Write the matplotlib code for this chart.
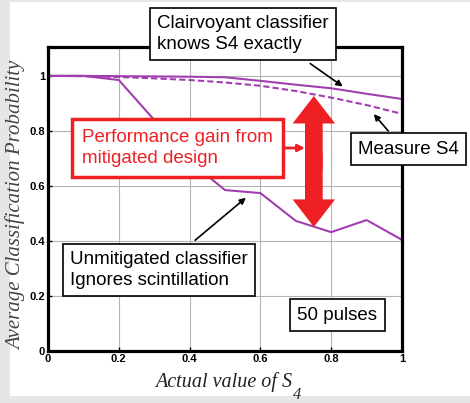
import numpy as np
import matplotlib.pyplot as plt
from matplotlib.patches import FancyArrow, Rectangle

plt.rcParams['font.family'] = 'Liberation Sans'

# data
s4 = [0, 0.1, 0.2, 0.3, 0.4, 0.5, 0.6, 0.7, 0.8, 0.9, 1.0]
clairvoyant = [1.0, 1.0, 0.999, 0.998, 0.997, 0.995, 0.982, 0.968, 0.955, 0.935, 0.916]
measured = [1.0, 0.999, 0.996, 0.991, 0.985, 0.976, 0.964, 0.945, 0.921, 0.894, 0.862]
unmitigated = [1.0, 1.0, 0.985, 0.84, 0.69, 0.585, 0.574, 0.473, 0.432, 0.476, 0.404]
xticks = [0, 0.2, 0.4, 0.6, 0.8, 1]
xlabels = ['0', '0.2', '0.4', '0.6', '0.8', '1']
yticks = [0, 0.2, 0.4, 0.6, 0.8, 1]
ylabels = ['0', '0.2', '0.4', '0.6', '0.8', '1']

W, H = 470, 403
fig = plt.figure(figsize=(W/100, H/100), dpi=100)
fig.patch.set_facecolor('#e6e6e6')
fig.patches.append(Rectangle((10/W, 1-396/H), 1, 394/H, transform=fig.transFigure,
                             facecolor='white', edgecolor='none', zorder=-5))

def fx(px):
    return px / W

def fy(py):
    return 1 - py / H

ax = fig.add_axes([fx(48), fy(351), fx(402)-fx(48), fy(47)-fy(351)])
ax.set_zorder(1)
purple = '#a23fb0'
ax.plot(s4, clairvoyant, color=purple, lw=1.5)
ax.plot(s4, measured, color=purple, lw=1.5, ls=(0, (3, 1.5)))
ax.plot(s4, unmitigated, color=purple, lw=1.5)

ax.set_xlim(0, 1)
ax.set_ylim(0, 1.105)
ax.set_xticks(xticks)
ax.set_xticklabels(xlabels, fontweight='bold', fontsize=8)
ax.set_yticks(yticks)
ax.set_yticklabels(ylabels, fontweight='bold', fontsize=8)
ax.tick_params(direction='in', length=3, width=1, pad=2)
ax.grid(True, color='#b4b4b4', lw=0.8)
for sp in ax.spines.values():
    sp.set_linewidth(2.3)
ax.set_facecolor('white')

fig.text(fx(16), fy(205), 'Average Classification Probability', rotation=90,
         ha='center', va='center', family='Liberation Serif', style='italic',
         fontsize=15, color='#444444', zorder=3)
fig.text(fx(224), fy(382), 'Actual value of S', ha='center', va='center',
         family='Liberation Serif', style='italic', fontsize=14.5, color='#222222', zorder=3)
fig.text(fx(293), fy(395), '4', ha='left', va='center',
         family='Liberation Serif', style='italic', fontsize=12, color='#222222', zorder=3)

# big red double arrow
red = '#ee2024'
xa, ytop, ybot = 0.751, 0.927, 0.451
ymid = (ytop + ybot) / 2
for y0, y1 in ((ymid - 0.03, ytop), (ymid + 0.03, ybot)):
    ax.add_patch(FancyArrow(xa, y0, 0, y1 - y0, width=0.05, head_width=0.12,
                            head_length=0.1, length_includes_head=True,
                            color=red, lw=0, zorder=5))

def label_box(px, py, txt, ec='black', tc='black', lw=1.2, pad=0.4):
    fig.text(fx(px), fy(py), txt, ha='left', va='center', fontsize=13.5,
             color=tc, linespacing=1.25, zorder=10,
             bbox=dict(boxstyle='square,pad=%g' % pad, fc='white', ec=ec, lw=lw))

label_box(157, 34, 'Clairvoyant classifier\nknows S4 exactly')
label_box(358, 149, 'Measure S4')
label_box(70, 270, 'Unmitigated classifier\nIgnores scintillation')
label_box(297, 315, '50 pulses')
label_box(82, 148, 'Performance gain from\nmitigated design', ec=red, tc=red, lw=2.5, pad=0.55)

arrow = dict(arrowstyle='-|>', color='black', lw=1.2, mutation_scale=9)
ax.annotate('', xy=(fx(345), fy(88)), xytext=(fx(308), fy(62)),
            xycoords='figure fraction', textcoords='figure fraction', arrowprops=arrow)
ax.annotate('', xy=(fx(372), fy(112)), xytext=(fx(390), fy(133)),
            xycoords='figure fraction', textcoords='figure fraction', arrowprops=arrow)
ax.annotate('', xy=(fx(248), fy(196)), xytext=(fx(193), fy(242)),
            xycoords='figure fraction', textcoords='figure fraction', arrowprops=arrow)
ax.annotate('', xy=(fx(305), fy(148)), xytext=(fx(283), fy(148)),
            xycoords='figure fraction', textcoords='figure fraction',
            arrowprops=dict(arrowstyle='-|>', color=red, lw=2, mutation_scale=10,
                            shrinkA=0, shrinkB=0))

fig.savefig('out.png', dpi=100, facecolor=fig.get_facecolor())
